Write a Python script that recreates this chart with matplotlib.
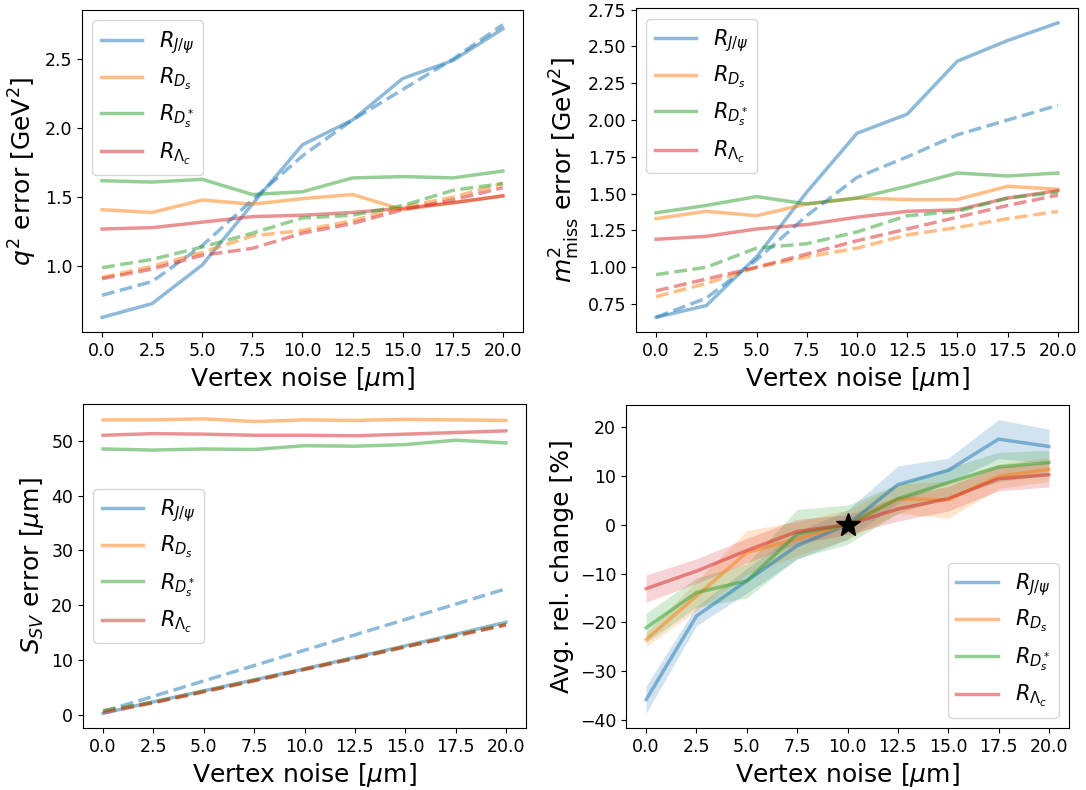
import numpy as np
import matplotlib
matplotlib.use("Agg")
import matplotlib.pyplot as plt

noise = [0.0, 2.5, 5.0, 7.5, 10.0, 12.5, 15.0, 17.5, 20.0]
labels = [r"$R_{J/\psi}$", r"$R_{D_s}$", r"$R_{D_s^*}$", r"$R_{\Lambda_c}$"]
colors = ["C0", "C1", "C2", "C3"]

# q^2 error, solid / dashed
q2_solid = [
    [0.63, 0.73, 1.01, 1.45, 1.88, 2.06, 2.36, 2.49, 2.72],
    [1.41, 1.39, 1.48, 1.45, 1.49, 1.52, 1.41, 1.46, 1.51],
    [1.62, 1.61, 1.63, 1.52, 1.54, 1.64, 1.65, 1.64, 1.69],
    [1.27, 1.28, 1.32, 1.36, 1.37, 1.39, 1.42, 1.46, 1.51],
]
q2_dashed = [
    [0.79, 0.89, 1.15, 1.48, 1.80, 2.06, 2.28, 2.50, 2.75],
    [0.92, 1.00, 1.10, 1.22, 1.26, 1.33, 1.43, 1.50, 1.60],
    [0.99, 1.05, 1.14, 1.24, 1.35, 1.37, 1.44, 1.55, 1.60],
    [0.91, 0.98, 1.08, 1.13, 1.24, 1.31, 1.41, 1.48, 1.57],
]

# m^2_miss error, solid / dashed
m2_solid = [
    [0.66, 0.74, 1.07, 1.51, 1.91, 2.04, 2.40, 2.54, 2.66],
    [1.33, 1.38, 1.35, 1.43, 1.47, 1.46, 1.46, 1.55, 1.53],
    [1.37, 1.42, 1.48, 1.43, 1.47, 1.55, 1.64, 1.62, 1.64],
    [1.19, 1.21, 1.26, 1.29, 1.34, 1.38, 1.39, 1.47, 1.52],
]
m2_dashed = [
    [0.66, 0.79, 1.05, 1.35, 1.61, 1.75, 1.90, 2.00, 2.10],
    [0.80, 0.89, 1.00, 1.07, 1.13, 1.22, 1.27, 1.33, 1.38],
    [0.95, 1.00, 1.13, 1.16, 1.24, 1.35, 1.38, 1.47, 1.51],
    [0.84, 0.92, 1.00, 1.09, 1.18, 1.26, 1.34, 1.42, 1.49],
]

# S_SV error, solid / dashed
ssv_solid = [
    [0.3, 2.4, 4.4, 6.4, 8.4, 10.5, 12.6, 14.7, 16.9],
    [53.8, 53.8, 54.0, 53.5, 53.8, 53.7, 53.9, 53.8, 53.7],
    [48.5, 48.3, 48.5, 48.4, 49.1, 49.0, 49.3, 50.1, 49.6],
    [51.0, 51.3, 51.2, 51.0, 51.0, 50.9, 51.2, 51.5, 51.8],
]
ssv_dashed = [
    [0.6, 3.4, 6.2, 9.0, 11.8, 14.6, 17.4, 20.2, 23.0],
    [0.7, 2.3, 4.3, 6.3, 8.4, 10.4, 12.5, 14.5, 16.5],
    [0.8, 2.3, 4.3, 6.3, 8.3, 10.4, 12.4, 14.5, 16.5],
    [0.4, 2.2, 4.2, 6.2, 8.3, 10.3, 12.4, 14.4, 16.4],
]

# average relative change [%] and its spread
rel_mean = [
    [-35.8, -18.7, -11.5, -4.3, 0.0, 8.2, 11.1, 17.5, 16.0],
    [-23.5, -14.6, -5.7, -2.9, 0.0, 5.3, 5.1, 9.9, 11.3],
    [-21.1, -13.9, -11.5, -1.9, 0.0, 5.3, 8.6, 11.8, 12.7],
    [-13.1, -9.5, -5.3, -1.4, 0.0, 3.2, 5.3, 9.4, 10.2],
]
rel_err = [
    [2.8, 2.0, 2.5, 2.8, 3.0, 3.8, 2.5, 4.0, 3.5],
    [1.4, 3.0, 4.5, 3.5, 3.0, 3.0, 3.8, 2.5, 2.5],
    [3.0, 3.0, 3.5, 5.0, 4.0, 3.0, 3.0, 3.0, 2.5],
    [2.8, 2.5, 2.5, 2.5, 2.0, 2.5, 2.5, 2.5, 2.5],
]

plt.rcParams["font.family"] = "DejaVu Sans"
plt.rcParams["mathtext.fontset"] = "dejavusans"

fig = plt.figure(figsize=(10.86, 7.9), dpi=100)
ax1 = fig.add_axes([0.0755, 0.5797, 0.406, 0.4076])
ax2 = fig.add_axes([0.5856, 0.5797, 0.407, 0.410])
ax3 = fig.add_axes([0.0764, 0.0785, 0.408, 0.410])
ax4 = fig.add_axes([0.5764, 0.0785, 0.408, 0.409])

lw = 2.5
alpha = 0.5

for ax, solid, dashed in [(ax1, q2_solid, q2_dashed), (ax2, m2_solid, m2_dashed),
                          (ax3, ssv_solid, ssv_dashed)]:
    for i in range(4):
        ax.plot(noise, solid[i], color=colors[i], lw=lw, alpha=alpha, label=labels[i])
    for i in range(4):
        ax.plot(noise, dashed[i], "--", color=colors[i], lw=lw, alpha=alpha)

for i in range(4):
    m = np.array(rel_mean[i])
    e = np.array(rel_err[i])
    ax4.fill_between(noise, m - e, m + e, color=colors[i], alpha=0.2, lw=0)
    ax4.plot(noise, m, color=colors[i], lw=lw, alpha=alpha, label=labels[i])
ax4.plot(10, 0, "*", color="k", markersize=18)

ax1.set_ylabel(r"$q^2$ error [GeV$^2$]", fontsize=18)
ax2.set_ylabel(r"$m^2_{\rm miss}$ error [GeV$^2$]", fontsize=18)
ax3.set_ylabel(r"$S_{SV}$ error [$\mu$m]", fontsize=18)
ax4.set_ylabel("Avg. rel. change [%]", fontsize=18)

ax1.set_yticks([1.0, 1.5, 2.0, 2.5])
ax2.set_yticks([0.75, 1.0, 1.25, 1.5, 1.75, 2.0, 2.25, 2.5, 2.75])
ax3.set_yticks([0, 10, 20, 30, 40, 50])
ax4.set_yticks([-40, -30, -20, -10, 0, 10, 20])

for ax in [ax1, ax2, ax3, ax4]:
    ax.set_xlabel(r"Vertex noise [$\mu$m]", fontsize=18)
    ax.set_xticks(noise)
    ax.tick_params(labelsize=12.5)

ax1.legend(loc="upper left", fontsize=15)
ax2.legend(loc="upper left", fontsize=15)
ax3.legend(loc="center left", fontsize=15)
ax4.legend(loc="lower right", fontsize=15)

fig.savefig("out.png", dpi=100)
